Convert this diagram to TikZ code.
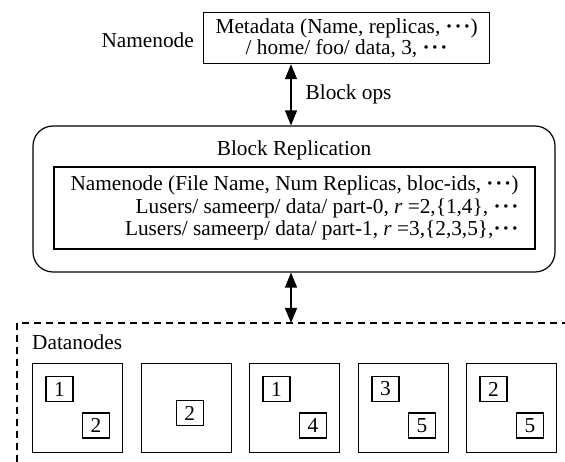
\documentclass[tikz,border=0pt]{standalone}
\usepackage{fontspec}
\setmainfont{Liberation Serif}
\usetikzlibrary{positioning,arrows.meta}

\newcommand{\dotrow}{\textbf{·\kern1.8pt·\kern1.8pt·}}

\tikzset{
    frame/.style = {draw, line width=1.2pt, inner sep=0pt},
    blk/.style = {draw, line width=1.1pt, minimum width=27pt, minimum height=25pt, inner sep=0pt},
    link/.style = {line width=1.3pt, {Triangle[length=15pt,width=12pt]}-{Triangle[length=15pt,width=12pt]}}
}

\begin{document}
\begin{tikzpicture}[x=1pt, y=-1pt, font=\fontsize{21.3}{21}\selectfont]
    \useasboundingbox (0,0) rectangle (565,462);
    \node[frame, align=center, inner xsep=12pt, minimum height=51pt, anchor=north west] (meta) at (203,12)
        {Metadata (Name, replicas, \dotrow)\\/ home/ foo/ data, 3, \dotrow};
    \node[anchor=east, inner sep=0pt] (nname) at (194,40) {Namenode};
    \node[frame, rounded corners=20pt, minimum width=522pt, minimum height=146pt] (repl) at (294,199) {};
    \node[inner sep=0pt] (rtitle) at (294,150) {Block Replication};
    \node[frame, align=right, minimum width=481pt, minimum height=82pt, font=\fontsize{21.3}{22.5}\selectfont] (table) at (294.5,208)
        {Namenode (File Name, Num Replicas, bloc-ids, \dotrow)\\
         Lusers/ sameerp/ data/ part-0, \textit{r} =2,\{1,4\}, \dotrow\\
         Lusers/ sameerp/ data/ part-1, \textit{r} =3,\{2,3,5\},\dotrow};
    \coordinate (amark) at (291,0);
    \coordinate (dmark) at (17,323);
    \draw[link] (amark |- meta.south) -- (amark |- repl.north)
        node[midway, anchor=west, xshift=14pt, inner sep=0pt] (ops) {Block ops};
    \draw[line width=1.1pt, dash pattern=on 7pt off 5pt] (dmark |- 0,462) -- (dmark) -- (565,323);
    \draw[link] (amark |- repl.south) -- (amark |- dmark);
    \node[anchor=west, inner sep=0pt] (dtitle) at (32,342) {Datanodes};
    \foreach \n/\x in {1/32,2/141,3/249,4/358,5/466}
        \node[frame, minimum width=90pt, minimum height=89pt, anchor=north west] (d\n) at (\x,363) {};
    \foreach \n/\a/\b in {1/1/2,3/1/4,4/3/5,5/2/5} {
        \node[blk] (d\n-a) at ([xshift=27.5pt,yshift=-26pt]d\n.north west) {\a};
        \node[blk] (d\n-b) at ([xshift=64pt,yshift=-62.5pt]d\n.north west) {\b};
    }
    \node[blk] (d2-a) at ([xshift=3pt,yshift=-5pt]d2.center) {2};
\end{tikzpicture}
\end{document}
